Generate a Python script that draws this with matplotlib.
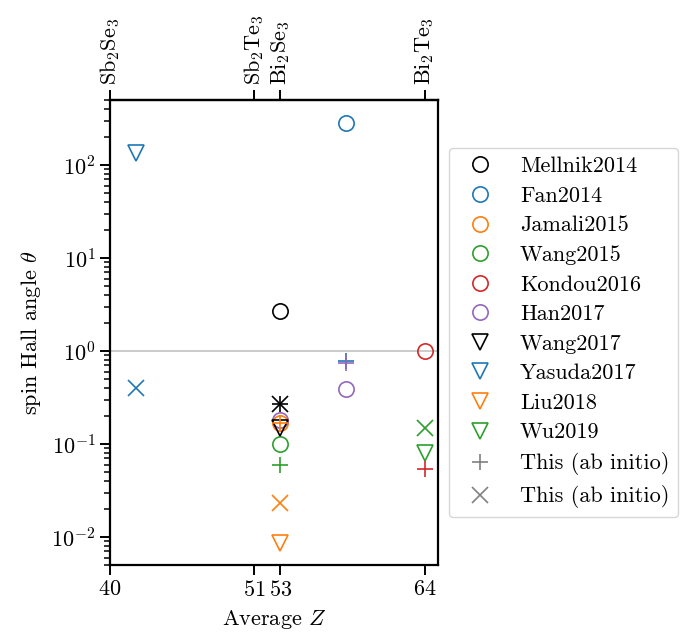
import matplotlib
matplotlib.use("Agg")
import matplotlib.pyplot as plt
from matplotlib.lines import Line2D
from matplotlib.ticker import NullFormatter

plt.rcParams['font.family'] = 'serif'
plt.rcParams['font.serif'] = ['cmr10']
plt.rcParams['mathtext.fontset'] = 'cm'
plt.rcParams['axes.formatter.use_mathtext'] = True
plt.rcParams['font.size'] = 16

# experimental data: (label, marker, color, average Z, spin Hall angle)
exp_labels = ["Mellnik2014", "Fan2014", "Jamali2015", "Wang2015", "Kondou2016",
              "Han2017", "Wang2017", "Yasuda2017", "Liu2018", "Wu2019"]
exp_markers = ["o", "o", "o", "o", "o", "o", "v", "v", "v", "v"]
exp_colors = ["k", "C0", "C1", "C2", "C3", "C4", "k", "C0", "C1", "C2"]
exp_z = [[53], [58], [53], [53], [64], [53, 58], [53], [42], [53], [64]]
exp_theta = [[2.7], [285], [0.168], [0.1], [1.0], [0.18, 0.39], [0.15], [135], [0.0087], [0.081]]

# ab initio results
plus_z = [53, 53, 53, 58, 58, 64]
plus_theta = [0.27, 0.17, 0.06, 0.79, 0.74, 0.054]
plus_colors = ["k", "C1", "C2", "C0", "C4", "C3"]

cross_z = [42, 53, 53, 64]
cross_theta = [0.40, 0.27, 0.023, 0.15]
cross_colors = ["C0", "k", "C1", "C2"]

bottom_ticks = [40, 51, 53, 64]
top_ticks = [40, 51, 53, 64]
top_labels = [r"Sb$_2$Se$_3$", r"Sb$_2$Te$_3$", r"Bi$_2$Se$_3$", r"Bi$_2$Te$_3$"]

ms = 11
mew = 1.2

fig = plt.figure(figsize=(6.81, 6.33), dpi=100)
ax = fig.add_axes([0.1615, 0.1074, 0.4812, 0.7346])

ax.axhline(1.0, color="0.78", lw=1.3, zorder=0)

for lab, m, c, z, t in zip(exp_labels, exp_markers, exp_colors, exp_z, exp_theta):
    ax.plot(z, t, m, color=c, mfc="none", ms=ms, mew=mew, ls="none", label=lab)

for z, t, c in zip(plus_z, plus_theta, plus_colors):
    ax.plot(z, t, "+", color=c, ms=ms + 1, mew=mew, ls="none")
for z, t, c in zip(cross_z, cross_theta, cross_colors):
    ax.plot(z, t, "x", color=c, ms=ms, mew=mew, ls="none")

ax.set_yscale("log")
ax.set_xlim(40, 65)
ax.set_ylim(5e-3, 5e2)
ax.set_xticks(bottom_ticks)
ax.yaxis.set_minor_formatter(NullFormatter())
ax.set_xlabel(r"Average $Z$", labelpad=6)
ax.set_ylabel(r"spin Hall angle $\theta$", labelpad=6)

for sp in ax.spines.values():
    sp.set_linewidth(1.6)
ax.tick_params(which="major", length=7, width=1.4)
ax.tick_params(which="minor", length=4, width=1.1)

secax = ax.secondary_xaxis("top")
secax.set_xticks(top_ticks, labels=top_labels, rotation=90)
secax.tick_params(which="major", length=7, width=1.4)
secax.spines["top"].set_linewidth(1.6)

handles, labels = ax.get_legend_handles_labels()
handles.append(Line2D([], [], marker="+", color="0.5", ms=ms + 1, mew=mew, ls="none"))
labels.append("This (ab initio)")
handles.append(Line2D([], [], marker="x", color="0.5", ms=ms, mew=mew, ls="none"))
labels.append("This (ab initio)")
ax.legend(handles, labels, loc="center left", bbox_to_anchor=(1.0, 0.5),
          labelspacing=0.45)

fig.savefig("out.png", dpi=100)
